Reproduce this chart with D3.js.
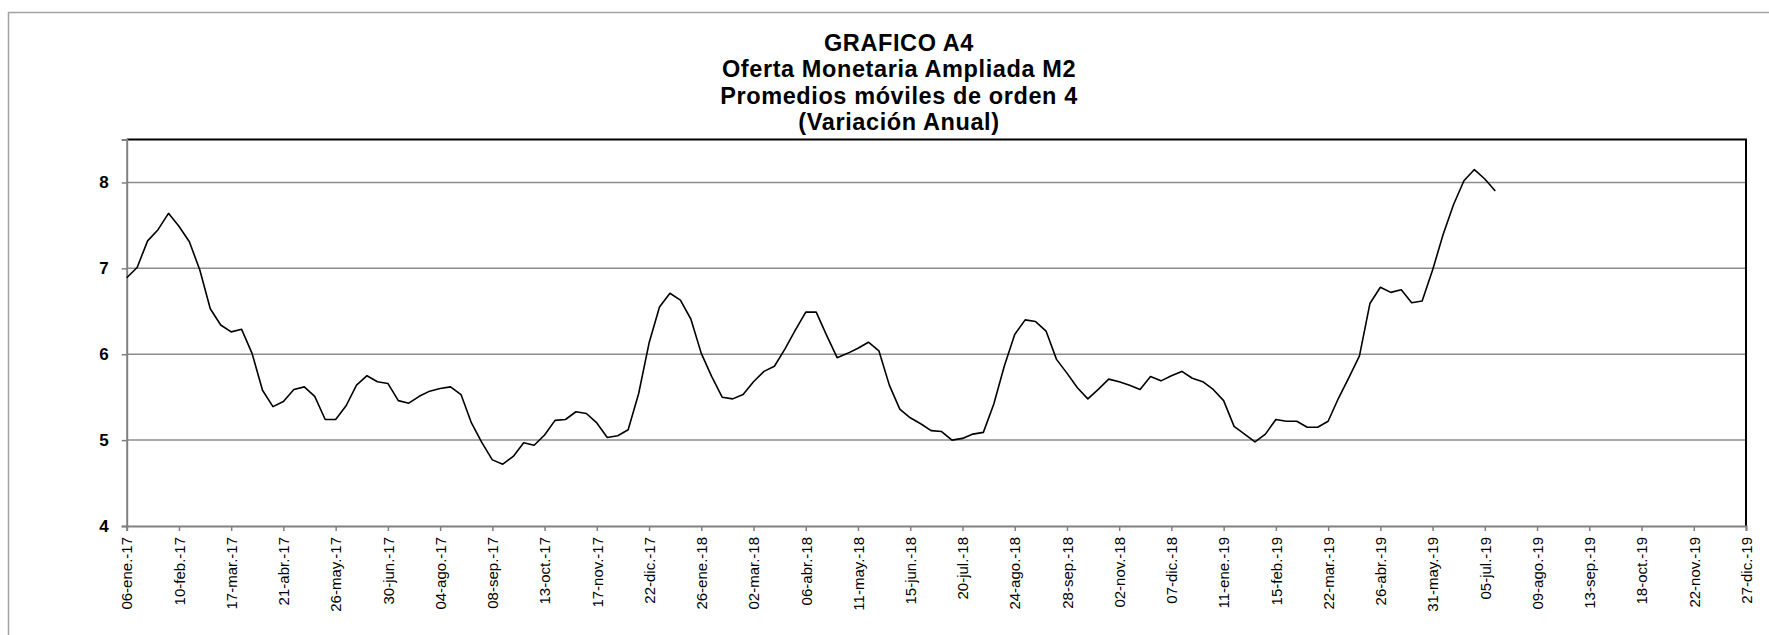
<!DOCTYPE html>
<html>
<head>
<meta charset="utf-8">
<script src="https://cdn.jsdelivr.net/npm/d3@7"></script>
<style>
  body { margin: 0; background: #fff; }
  svg { display: block; font-family: "Liberation Sans", Arial, sans-serif; }
</style>
</head>
<body>
<div id="chart"></div>
<script>
// weekly series, first week 06-ene-17
var startDate = new Date(2017, 0, 6);
var endDate = new Date(2019, 11, 27);

// Promedios móviles de orden 4 (variación anual, %)
var m2Values = [
  6.89, 7.01, 7.32, 7.45, 7.64, 7.49, 7.31, 6.98, 6.53, 6.34,
  6.26, 6.29, 6.01, 5.58, 5.39, 5.45, 5.59, 5.62, 5.51, 5.24,
  5.24, 5.40, 5.64, 5.75, 5.68, 5.66, 5.46, 5.43, 5.51, 5.57,
  5.60, 5.62, 5.53, 5.20, 4.97, 4.77, 4.72, 4.81, 4.97, 4.94,
  5.06, 5.23, 5.24, 5.33, 5.31, 5.20, 5.03, 5.05, 5.12, 5.54,
  6.13, 6.55, 6.71, 6.63, 6.41, 6.01, 5.74, 5.50, 5.48, 5.53,
  5.68, 5.80, 5.86, 6.06, 6.28, 6.49, 6.49, 6.22, 5.96, 6.01,
  6.07, 6.14, 6.04, 5.64, 5.36, 5.26, 5.19, 5.11, 5.10, 5.00,
  5.02, 5.07, 5.09, 5.42, 5.86, 6.23, 6.40, 6.38, 6.27, 5.94,
  5.78, 5.61, 5.48, 5.59, 5.71, 5.68, 5.64, 5.59, 5.74, 5.69,
  5.75, 5.80, 5.72, 5.68, 5.59, 5.46, 5.16, 5.07, 4.98, 5.07,
  5.24, 5.22, 5.22, 5.15, 5.15, 5.22, 5.49, 5.73, 5.98, 6.59,
  6.78, 6.72, 6.75, 6.60, 6.62, 6.98, 7.39, 7.74, 8.02, 8.15,
  8.04, 7.90
];

var tickLabels = [
  "06-ene.-17", "10-feb.-17", "17-mar.-17", "21-abr.-17", "26-may.-17", "30-jun.-17",
  "04-ago.-17", "08-sep.-17", "13-oct.-17", "17-nov.-17", "22-dic.-17", "26-ene.-18",
  "02-mar.-18", "06-abr.-18", "11-may.-18", "15-jun.-18", "20-jul.-18", "24-ago.-18",
  "28-sep.-18", "02-nov.-18", "07-dic.-18", "11-ene.-19", "15-feb.-19", "22-mar.-19",
  "26-abr.-19", "31-may.-19", "05-jul.-19", "09-ago.-19", "13-sep.-19", "18-oct.-19",
  "22-nov.-19", "27-dic.-19"
];

var yTicks = [4, 5, 6, 7, 8];

var titleLines = [
  "GRAFICO A4",
  "Oferta Monetaria Ampliada M2",
  "Promedios móviles de orden 4",
  "(Variación Anual)"
];

var W = 1769, H = 635;
var plot = {left: 126.7, right: 1746, top: 139.5, bottom: 526};

var svg = d3.select("#chart").append("svg")
  .attr("width", W)
  .attr("height", H);

svg.append("rect").attr("width", W).attr("height", H).attr("fill", "#fff");

// outer chart frame (runs off the right and bottom)
svg.append("path")
  .attr("d", "M8.5," + H + "V12.5H" + W)
  .attr("fill", "none")
  .attr("stroke", "#a3a3a3")
  .attr("stroke-width", 1.5);

var x = d3.scaleTime()
  .domain([startDate, endDate])
  .range([plot.left, plot.right]);

var y = d3.scaleLinear()
  .domain([4, 8.5])
  .range([plot.bottom, plot.top]);

var tickDates = tickLabels.map(function(d, i) { return d3.timeDay.offset(startDate, 35 * i); });
var data = m2Values.map(function(v, i) { return {date: d3.timeDay.offset(startDate, 7 * i), value: v}; });

// gridlines
svg.append("g")
  .selectAll("line")
  .data(yTicks.filter(function(d) { return d > 4; }))
  .enter()
  .append("line")
  .attr("x1", plot.left)
  .attr("x2", plot.right)
  .attr("y1", function(d) { return y(d); })
  .attr("y2", function(d) { return y(d); })
  .attr("stroke", "#8c8c8c")
  .attr("stroke-width", 1.5);

// top and right border
svg.append("path")
  .attr("d", "M" + plot.left + "," + plot.top + "H" + plot.right + "V" + plot.bottom)
  .attr("fill", "none")
  .attr("stroke", "#000")
  .attr("stroke-width", 2);

// Y axis
var yAxis = svg.append("g")
  .attr("transform", "translate(" + plot.left + ",0)")
  .call(d3.axisLeft(y).tickValues(yTicks).tickSize(5).tickPadding(13).tickFormat(d3.format("d")));
yAxis.select(".domain").attr("stroke", "#808080").attr("stroke-width", 2);
yAxis.selectAll(".tick line").attr("stroke", "#808080").attr("stroke-width", 1.5);
yAxis.selectAll("text")
  .attr("fill", "#000")
  .style("font-size", "17px")
  .style("font-weight", "bold");

// X axis
var xAxis = svg.append("g")
  .attr("transform", "translate(0," + plot.bottom + ")")
  .call(d3.axisBottom(x).tickValues(tickDates).tickSize(5)
    .tickFormat(function(d, i) { return tickLabels[i]; }));
xAxis.select(".domain").attr("stroke", "#808080").attr("stroke-width", 2);
xAxis.selectAll(".tick line").attr("stroke", "#808080").attr("stroke-width", 1.5);
xAxis.selectAll("text")
  .attr("fill", "#000")
  .attr("transform", "translate(0,11)rotate(-90)")
  .attr("x", 0)
  .attr("y", 0)
  .attr("dy", "0.35em")
  .style("text-anchor", "end")
  .style("font-size", "15px");

// series line
var line = d3.line()
  .x(function(d) { return x(d.date); })
  .y(function(d) { return y(d.value); });

svg.append("path")
  .datum(data)
  .attr("d", line)
  .attr("fill", "none")
  .attr("stroke", "#000")
  .attr("stroke-width", 1.6)
  .attr("stroke-linejoin", "round");

// title
svg.append("g")
  .selectAll("text")
  .data(titleLines)
  .enter()
  .append("text")
  .attr("x", 899)
  .attr("y", function(d, i) { return 50.5 + i * 26.5; })
  .attr("text-anchor", "middle")
  .style("font-size", "23.5px")
  .style("font-weight", "bold")
  .style("letter-spacing", "0.6px")
  .text(function(d) { return d; });
</script>
</body>
</html>
